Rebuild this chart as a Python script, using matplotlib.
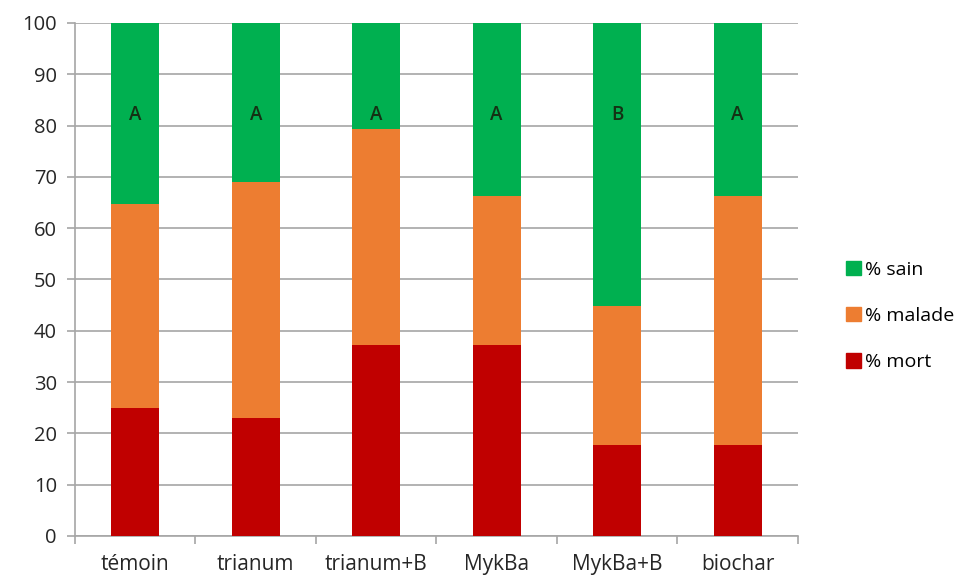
import matplotlib.pyplot as plt
from matplotlib.patches import Patch

categories = ["témoin", "trianum", "trianum+B", "MykBa", "MykBa+B", "biochar"]
mort = [25, 23, 37.3, 37.3, 17.8, 17.8]
malade = [39.7, 46, 42, 29, 27, 48.4]
sain = [35.3, 31, 20.7, 33.7, 55.2, 33.8]
letters = ["A", "A", "A", "A", "B", "A"]

c_sain = "#00B050"
c_malade = "#ED7D31"
c_mort = "#C00000"

plt.rcParams['font.family'] = ['Open Sans', 'DejaVu Sans']

fig = plt.figure(figsize=(9.69, 5.81), dpi=100)
ax = fig.add_axes([0.0774, 0.0775, 0.746, 0.883])

x = list(range(len(categories)))
w = 0.4
bot2 = [a + b for a, b in zip(mort, malade)]
ax.bar(x, mort, w, color=c_mort, zorder=3)
ax.bar(x, malade, w, bottom=mort, color=c_malade, zorder=3)
ax.bar(x, sain, w, bottom=bot2, color=c_sain, zorder=3)

for i, l in enumerate(letters):
    ax.text(i, 82, l, ha="center", va="center", fontsize=13.5, fontweight="semibold",
            color="#143214", zorder=4)

ax.set_xlim(-0.5, 5.5)
ax.set_ylim(0, 100)
ax.set_yticks(range(0, 101, 10))
ax.yaxis.grid(True, color="#a6a6a6", linewidth=1.2, zorder=0)
ax.set_axisbelow(True)

ax.set_xticks(x)
ax.set_xticklabels(categories, fontsize=15, color="#262626")
ax.set_xticks([i + 0.5 for i in range(-1, 6)], minor=True)
ax.tick_params(axis="x", which="major", length=0, pad=13)
ax.tick_params(axis="x", which="minor", length=6, color="#a6a6a6", width=1.2)
ax.tick_params(axis="y", length=6, color="#a6a6a6", width=1.2, labelsize=14.5,
               labelcolor="#262626", pad=7)

for s in ["top", "right"]:
    ax.spines[s].set_visible(False)
ax.spines["left"].set_color("#a6a6a6")
ax.spines["bottom"].set_color("#a6a6a6")
ax.spines["left"].set_linewidth(1.2)
ax.spines["bottom"].set_linewidth(1.2)

handles = [Patch(color=c_sain, label="% sain"),
           Patch(color=c_malade, label="% malade"),
           Patch(color=c_mort, label="% mort")]
fig.legend(handles=handles, loc="center left", bbox_to_anchor=(0.855, 0.456),
           frameon=False, fontsize=14, handlelength=0.75, handleheight=0.75,
           handletextpad=0.25, labelspacing=1.45)

fig.savefig("out.png", dpi=100)
